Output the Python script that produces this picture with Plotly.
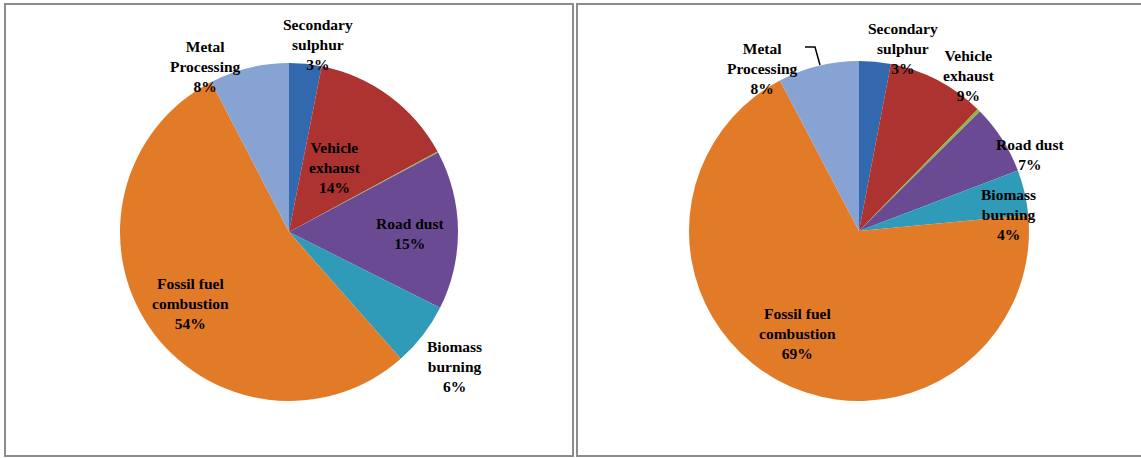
import plotly.graph_objects as go

categories = ["Secondary sulphur", "Vehicle exhaust", "Other", "Road dust",
              "Biomass burning", "Fossil fuel combustion", "Metal Processing"]
label_text = ["Secondary<br>sulphur", "Vehicle<br>exhaust", "", "Road dust",
              "Biomass<br>burning", "Fossil fuel<br>combustion", "Metal<br>Processing"]
values_left = [3.1, 14.0, 0.1, 15.2, 6.1, 53.9, 7.6]
values_right = [3.0, 9.3, 0.3, 6.6, 4.3, 68.8, 7.7]

colors = ["#3268ad", "#ad3331", "#8db642", "#6a4b93", "#2f9bb8", "#e27b28", "#87a3d3"]

W, H = 1141, 458

# label anchor pixel positions (x, y from top) for each slice
pos_left = [(318, 45), (335, 167), None, (410, 233), (455, 366), (190, 303), (205, 67)]
pos_right = [(903, 48), (969, 75), None, (1030, 154), (1008, 214), (797, 333), (762, 69)]

def dom(cx, cy, r):
    return dict(x=[(cx - r) / W, (cx + r) / W],
                y=[(H - cy - r) / H, (H - cy + r) / H])

fig = go.Figure()
for vals, d in [(values_left, dom(289, 232, 169)), (values_right, dom(859, 231, 170))]:
    fig.add_trace(go.Pie(
        labels=categories, values=vals, sort=False, direction="clockwise",
        rotation=0, marker=dict(colors=colors, line=dict(width=0)),
        textinfo="none", hoverinfo="label+percent", domain=d, showlegend=False,
    ))

annos = []
for vals, pos in [(values_left, pos_left), (values_right, pos_right)]:
    tot = sum(vals)
    for v, lt, p in zip(vals, label_text, pos):
        if p is None:
            continue
        annos.append(dict(
            x=p[0] / W, y=1 - p[1] / H, xref="paper", yref="paper",
            xanchor="center", yanchor="middle", showarrow=False,
            text="<b>%s<br>%d%%</b>" % (lt, round(100 * v / tot)),
            font=dict(family="Liberation Serif", size=15.5, color="#000000"),
        ))

shapes = [
    dict(type="rect", xref="paper", yref="paper", x0=5 / W, x1=573 / W,
         y0=1 - 456 / H, y1=1 - 4 / H, line=dict(color="#8c8c8c", width=2)),
    dict(type="rect", xref="paper", yref="paper", x0=577 / W, x1=1145 / W,
         y0=1 - 456 / H, y1=1 - 4 / H, line=dict(color="#8c8c8c", width=2)),
    dict(type="path", xref="paper", yref="paper",
         path="M %f %f L %f %f L %f %f" % (805 / W, 1 - 47 / H, 815 / W, 1 - 47 / H,
                                           820 / W, 1 - 65 / H),
         line=dict(color="#000000", width=1.5)),
]

fig.update_layout(
    width=W, height=H, margin=dict(l=0, r=0, t=0, b=0),
    paper_bgcolor="white", plot_bgcolor="white",
    annotations=annos, shapes=shapes,
)
fig.write_html("out.html", config={"displayModeBar": False},
               post_script="document.body.style.margin='0';document.body.style.overflow='hidden';")
